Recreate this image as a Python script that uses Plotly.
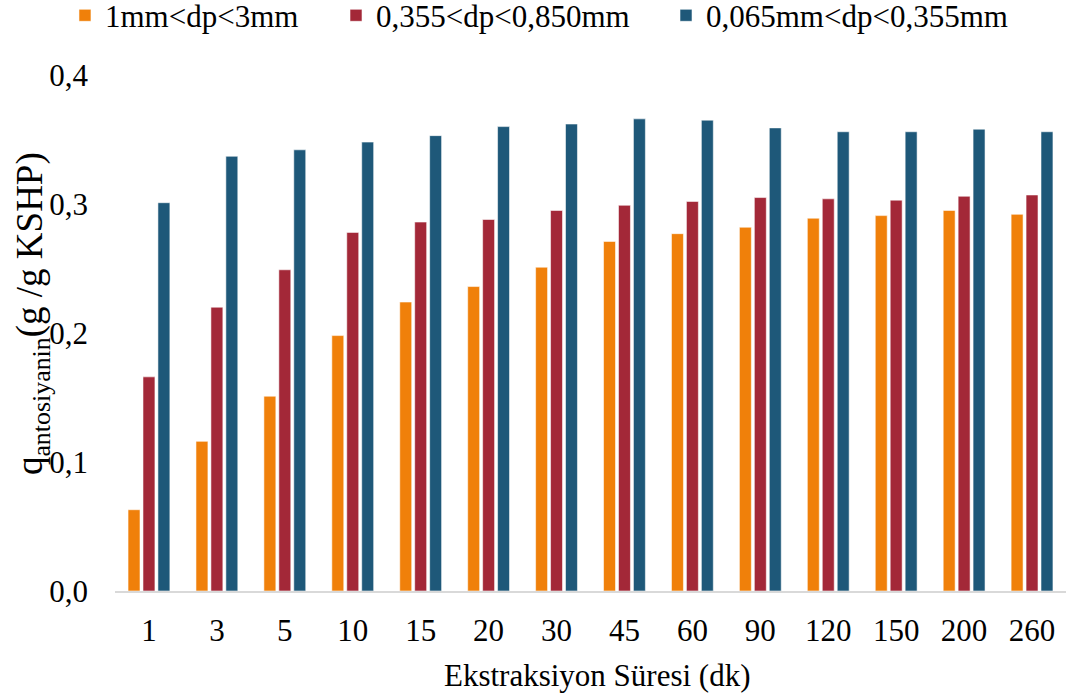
import plotly.graph_objects as go

# Extraction time categories (minutes)
sure_dk = ["1", "3", "5", "10", "15", "20", "30", "45", "60", "90", "120", "150", "200", "260"]

# Anthocyanin loading per particle-size fraction (g / g KSHP)
q_buyuk = [0.063, 0.116, 0.151, 0.198, 0.224, 0.236, 0.251, 0.271, 0.277, 0.282, 0.289, 0.291, 0.295, 0.292]
q_orta = [0.166, 0.220, 0.249, 0.278, 0.286, 0.288, 0.295, 0.299, 0.302, 0.305, 0.304, 0.303, 0.306, 0.307]
q_kucuk = [0.301, 0.337, 0.342, 0.348, 0.353, 0.360, 0.362, 0.366, 0.365, 0.359, 0.356, 0.356, 0.358, 0.356]

seri_adlari = ["1mm<dp<3mm", "0,355<dp<0,850mm", "0,065mm<dp<0,355mm"]
renkler = ["#F0800A", "#A32838", "#1E5879"]
lejant_adlari = ["legend", "legend2", "legend3"]
lejant_x = [-0.0526, 0.2324, 0.5794]

FONT = "Liberation Serif"
FS = 31

fig = go.Figure()
for ad, degerler, renk, lej in zip(seri_adlari, [q_buyuk, q_orta, q_kucuk], renkler, lejant_adlari):
    fig.add_trace(go.Bar(
        x=sure_dk, y=degerler, name=ad, legend=lej,
        marker=dict(color=renk, line=dict(color="rgba(255,255,255,0.55)", width=1)),
    ))

lejant_ortak = dict(
    orientation="h", xanchor="left", y=1.115, yanchor="middle",
    font=dict(family=FONT, size=FS, color="black"),
    bgcolor="rgba(0,0,0,0)",
)

fig.update_layout(
    width=1069, height=698,
    margin=dict(l=115, r=3, t=75, b=107, autoexpand=False),
    paper_bgcolor="white", plot_bgcolor="white",
    barmode="group", bargap=0.34, bargroupgap=0.2,
    separators=",.",
    font=dict(family=FONT, size=FS, color="black"),
    showlegend=True,
    legend=dict(x=lejant_x[0], **lejant_ortak),
    legend2=dict(x=lejant_x[1], **lejant_ortak),
    legend3=dict(x=lejant_x[2], **lejant_ortak),
    xaxis=dict(
        type="category", showline=True, linecolor="#D9D9D9", linewidth=2,
        showgrid=False, zeroline=False, ticks="", ticklabelstandoff=11,
        tickfont=dict(family=FONT, size=FS, color="black"),
    ),
    yaxis=dict(
        range=[0, 0.4], tickvals=[0, 0.1, 0.2, 0.3, 0.4], tickformat=".1f",
        showline=False, showgrid=False, zeroline=False, ticks="",
        ticklabelstandoff=26,
        tickfont=dict(family=FONT, size=FS, color="black"),
    ),
    annotations=[
        dict(text="q<sub>antosiyanin</sub>(g /g KSHP)", textangle=-90,
             xref="paper", yref="paper", x=-0.086, y=0.537,
             xanchor="center", yanchor="middle", showarrow=False,
             font=dict(family=FONT, size=37, color="black")),
        dict(text="Ekstraksiyon Süresi (dk)",
             xref="paper", yref="paper", x=0.507, y=-0.163,
             xanchor="center", yanchor="middle", showarrow=False,
             font=dict(family=FONT, size=FS, color="black")),
    ],
)

fig.write_html("out.html")
